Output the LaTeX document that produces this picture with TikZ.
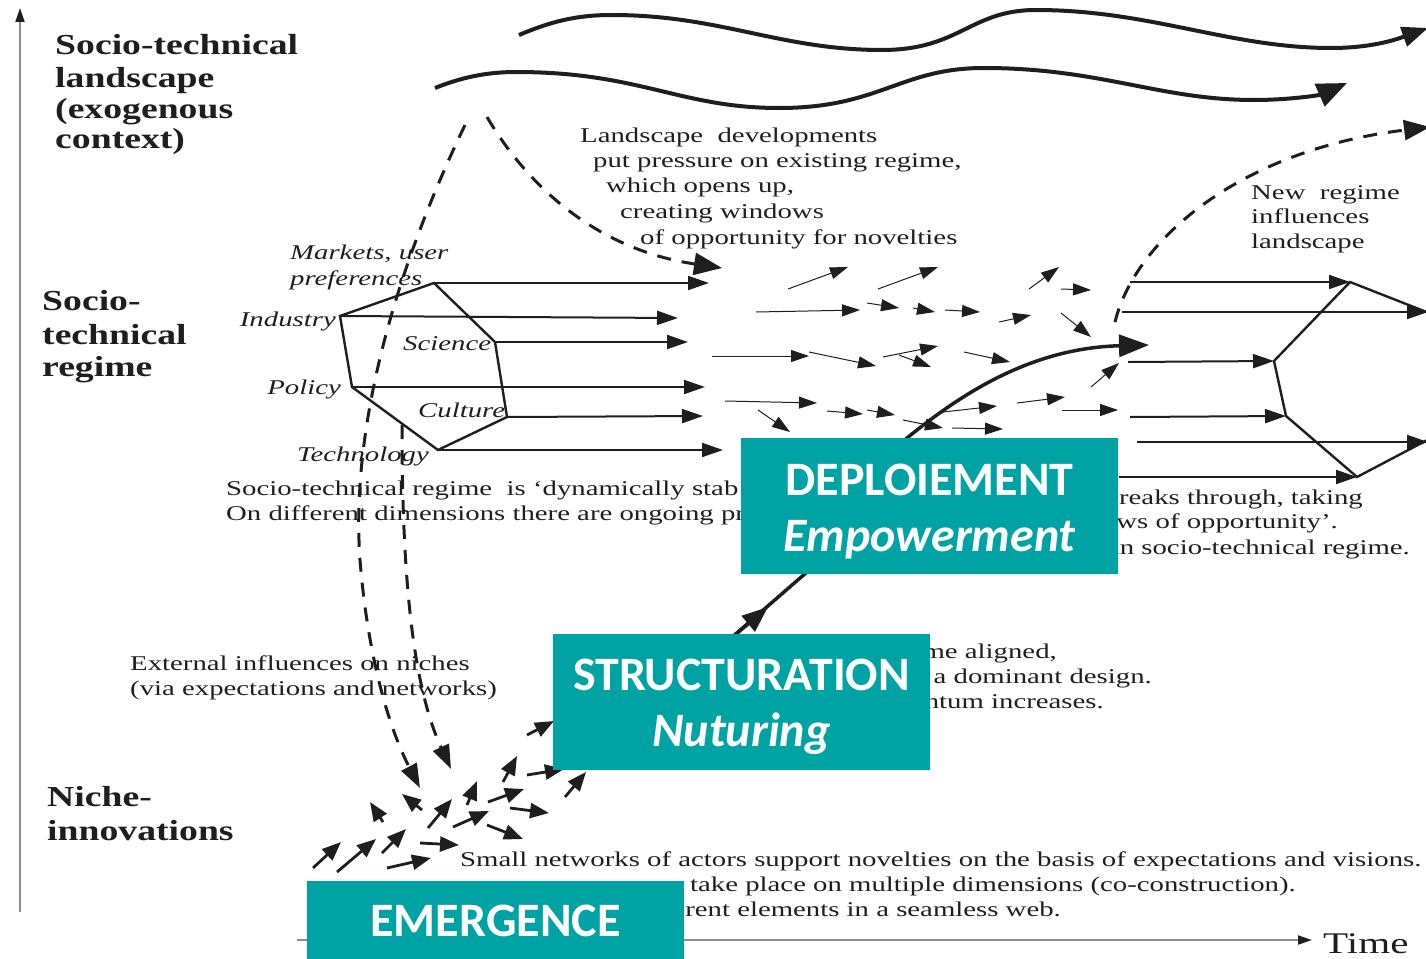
\documentclass[tikz,border=0pt]{standalone}
\usepackage{fontspec}
\usetikzlibrary{arrows.meta}
\newfontfamily\txtfont[FakeStretch=1.37]{Liberation Serif}
\newfontfamily\lblfont[FakeStretch=1.3]{Liberation Serif}
\newfontfamily\boxfont{Carlito}
\definecolor{tealbox}{RGB}{0,163,163}
\definecolor{ink}{RGB}{30,30,30}
\definecolor{axisgray}{RGB}{140,140,140}
\begin{document}
\begin{tikzpicture}[x=1pt,y=-1pt,
  body/.style={font=\txtfont\fontsize{21}{25}\selectfont, text=ink, inner sep=0pt, anchor=west, text height=15pt, text depth=5pt},
  bodyr/.style={body, anchor=east},
  itl/.style={body, font=\txtfont\itshape\fontsize{21}{25}\selectfont},
  itlr/.style={itl, anchor=east},
  lbl/.style={font=\lblfont\bfseries\fontsize{29}{33}\selectfont, text=ink, inner sep=0pt, anchor=base west},
  tbox/.style={fill=tealbox, text=white, minimum width=377pt, inner sep=0pt, align=center, font=\boxfont\bfseries\fontsize{48}{56}\selectfont},
  hexline/.style={line width=2.4pt, line join=miter, draw=ink},
  harr/.style={line width=2pt, draw=ink, -{Triangle[length=21pt,width=14pt]}},
  sarr/.style={line width=1pt, draw=ink, -{Triangle[length=18pt,width=12pt]}},
  narr/.style={line width=2.8pt, draw=ink, -{Triangle[length=19pt,width=15pt]}},
  dsh/.style={line width=3pt, draw=ink, dash pattern=on 14pt off 11pt},
  wave/.style={line width=4pt, draw=ink},
  axis/.style={line width=2pt, draw=axisgray, -{Triangle[length=14pt,width=9pt,color=ink]}}
]
\useasboundingbox (0,0) rectangle (1426,958);

% axes
\coordinate (yb) at (20,912); \coordinate (yt) at (20,8);
\draw[axis] (yb) -- (yt);
\coordinate (xl) at (297,940); \coordinate (xr) at (1312,940);
\draw[axis] (xl) -- (xr);
\node[font=\txtfont\fontsize{30}{34}\selectfont, text=ink, anchor=base west, inner sep=0pt] (time) at (1323,953) {Time};

% level labels
\node[lbl] (l1) at (55,55) {Socio-technical};
\node[lbl] (l2) at (55,88) {landscape};
\node[lbl] (l3) at (55,118) {(exogenous};
\node[lbl] (l4) at (55,148) {context)};
\node[lbl] (r1) at (42,310) {Socio-};
\node[lbl] (r2) at (42,344) {technical};
\node[lbl] (r3) at (42,376) {regime};
\node[lbl] (n1) at (47,806) {Niche-};
\node[lbl] (n2) at (47,840) {innovations};

% landscape waves
\draw[wave, -{Triangle[length=26pt,width=20pt]}] (519,35) .. controls (550,22) and (575,15) .. (612,15)
  .. controls (720,15) and (780,50) .. (882,50) .. controls (960,50) and (970,10) .. (1036,10)
  .. controls (1150,10) and (1230,48) .. (1331,48) .. controls (1375,48) and (1400,38) .. (1428,28);
\draw[wave, -{Triangle[length=30pt,width=24pt]}] (435,88) .. controls (460,78) and (485,72) .. (516,72)
  .. controls (640,72) and (680,108) .. (779,108) .. controls (880,108) and (900,68) .. (984,68)
  .. controls (1100,68) and (1160,100) .. (1254,100) .. controls (1290,100) and (1320,95) .. (1347,83);

% texts landscape
\node[body] (t1) at (580,137) {Landscape\ \ developments};
\node[body] (t2) at (593,162) {put pressure on existing regime,};
\node[body] (t3) at (606,187) {which opens up,};
\node[body] (t4) at (620,213) {creating windows};
\node[body] (t5) at (640,239) {of opportunity for novelties};
\node[body] (nr1) at (1251,194) {New\ \ regime};
\node[body] (nr2) at (1251,218) {influences};
\node[body] (nr3) at (1251,243) {landscape};

% left regime hexagon
\coordinate (hm) at (434,283); \coordinate (hs) at (495,342); \coordinate (hc) at (507,417);
\coordinate (ht) at (438,450); \coordinate (hp) at (352,387); \coordinate (hi) at (340,316);
\draw[hexline] (hm) -- (hs) -- (hc) -- (ht) -- (hp) -- (hi) -- cycle;
\coordinate (hmE) at (709,283); \coordinate (hiE) at (678,318); \coordinate (hsE) at (688,342);
\coordinate (hpE) at (705,387); \coordinate (hcE) at (703,416); \coordinate (htE) at (723,450);
\draw[harr] (hm) -- (hmE);
\draw[harr] (hi) -- (hiE);
\draw[harr] (hs) -- (hsE);
\draw[harr] (hp) -- (hpE);
\draw[harr] (hc) -- (hcE);
\draw[harr] (ht) -- (htE);

% italic dimension labels
\node[itl] (mk1) at (290,254) {Markets, user};
\node[itl] (mk2) at (290,280) {preferences};
\node[itlr] (ind) at (336,321) {Industry};
\node[itl] (sci) at (403,345) {Science};
\node[itlr] (pol) at (341,389) {Policy};
\node[itl] (cul) at (418,412) {Culture};
\node[itl] (tec) at (297,456) {Technology};

% right regime hexagon
\coordinate (gA) at (1452,322); \coordinate (gt) at (1350,282); \coordinate (gl) at (1274,361);
\coordinate (gm) at (1286,416); \coordinate (gb) at (1357,477); \coordinate (gB) at (1452,427);
\draw[hexline] (gA) -- (gt) -- (gl) -- (gm) -- (gb) -- (gB);
\coordinate (q1) at (1130,282); \coordinate (q2) at (1122,312); \coordinate (q2e) at (1428,312);
\coordinate (q3) at (1128,362); \coordinate (q4) at (1130,417); \coordinate (q5) at (1137,442);
\coordinate (q5e) at (1428,442); \coordinate (q6) at (1119,477);
\draw[harr] (q1) -- (gt);
\draw[harr] (q2) -- (q2e);
\draw[harr] (q3) -- (gl);
\draw[harr] (q4) -- (gm);
\draw[harr] (q5) -- (q5e);
\draw[harr] (q6) -- (gb);

% dashed influences
\coordinate (da0) at (465,125); \coordinate (da1) at (360,560); \coordinate (da2) at (420,788);
\draw[dsh, -{Triangle[length=24pt,width=17pt]}] (da0) .. controls (400,260) and (350,420) .. (da1)
  .. controls (368,660) and (390,730) .. (da2);
\coordinate (db0) at (402,425); \coordinate (db1) at (451,769);
\draw[dsh, -{Triangle[length=24pt,width=17pt]}] (db0) .. controls (402,560) and (410,680) .. (db1);
\coordinate (dc0) at (487,117); \coordinate (dc1) at (722,268);
\draw[dsh, -{Triangle[length=28pt,width=22pt]}] (dc0) .. controls (530,190) and (600,250) .. (dc1);
\coordinate (dd0) at (1115,322); \coordinate (dd1) at (1430,127);
\draw[dsh, -{Triangle[length=26pt,width=20pt]}] (dd0) .. controls (1135,240) and (1240,150) .. (dd1);

% small arrows in regime
\foreach \a/\b/\c/\d in {788/289/848/267, 878/289/938/267, 1029/289/1059/267, 1061/289/1091/290,
  756/312/860/310, 867/303/899/308, 913/308/935/312, 945/310/980/312, 999/322/1031/315, 1061/313/1091/337,
  712/356/809/356, 809/352/876/366, 883/357/938/346, 899/355/931/367, 964/352/1010/362, 1091/387/1119/363,
  725/401/817/403, 758/410/790/432, 827/411/863/414, 867/410/895/415, 903/420/943/428, 943/412/997/406,
  952/428/1003/429, 1017/403/1065/397, 1062/410/1118/410}
  \draw[sarr] (\a,\b) -- (\c,\d);

% niche arrows
\foreach \a/\b/\c/\d in {313/868/341/842, 337/872/376/839, 382/853/406/829, 387/868/431/858, 420/843/459/845,
  428/828/452/799, 453/827/489/811, 487/825/523/839, 383/822/370/802, 422/810/402/794, 467/805/477/781,
  488/802/524/789, 503/782/517/756, 510/808/549/813, 527/775/564/769, 565/797/586/772, 527/735/554/721}
  \draw[narr] (\a,\b) -- (\c,\d);

% main breakthrough curve
\coordinate (m0) at (700,665); \coordinate (m1) at (830,552); \coordinate (m2) at (907,438); \coordinate (m3) at (1149,345);
\draw[line width=3.5pt, draw=ink, -{Triangle[length=30pt,width=22pt]}] (m0) -- (m1) .. controls (870,500) and (880,460) .. (m2)
  .. controls (960,395) and (1030,348) .. (m3);
\coordinate (mt0) at (735,635); \coordinate (mt1) at (768,607);
\draw[line width=3.5pt, draw=ink, -{Triangle[length=26pt,width=20pt]}] (mt0) -- (mt1);

% regime texts (visible parts; the rest lies under the boxes)
\node[body] (s1) at (226,490) {Socio-technical regime\ \ is ‘dynamically stab};
\node[body] (s2) at (226,515) {On different dimensions there are ongoing pr};
\node[bodyr] (b1) at (1363,499) {breaks through, taking};
\node[bodyr] (b2) at (1338,523) {ows of opportunity’.};
\node[bodyr] (b3) at (1410,549) {in socio-technical regime.};
\node[bodyr] (e1) at (1057,653) {me aligned,};
\node[bodyr] (e2) at (1152,678) {a dominant design.};
\node[bodyr] (e3) at (1104,703) {ntum increases.};
\node[body] (x1) at (130,665) {External influences on niches};
\node[body] (x2) at (130,690) {(via expectations and networks)};
\node[body] (w1) at (460,861) {Small networks of actors support novelties on the basis of expectations and visions.};
\node[bodyr] (w2) at (1296,886) {take place on multiple dimensions (co-construction).};
\node[bodyr] (w3) at (1061,911) {rent elements in a seamless web.};

% teal boxes
\node[tbox, minimum height=136pt] (dep) at (929.5,506) {\rule{0pt}{42pt}DEPLOIEMENT\\\itshape Empowerment};
\node[tbox, minimum height=136pt] (str) at (741.5,702) {\rule{0pt}{42pt}STRUCTURATION\\\itshape Nuturing};
\node[tbox, minimum height=80pt] (emg) at (495.5,921) {EMERGENCE};
\end{tikzpicture}
\end{document}
